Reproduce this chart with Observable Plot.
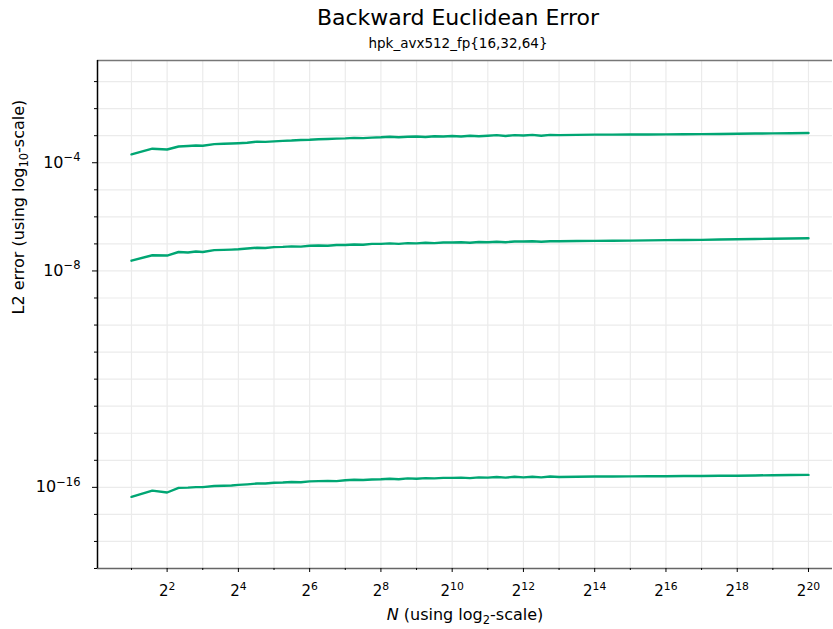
<!DOCTYPE html>
<html>
<head>
<meta charset="utf-8">
<script src="https://cdn.jsdelivr.net/npm/d3@7"></script>
<script src="https://cdn.jsdelivr.net/npm/@observablehq/plot@0.6"></script>
<style>
  html, body { margin: 0; padding: 0; background: #fff; }
  body { width: 833px; height: 629px; position: relative; overflow: hidden; font-family: "DejaVu Sans", sans-serif; }
  #title { position: absolute; z-index: 2; left: 0; width: 916px; top: 4px; text-align: center; font-size: 22px; line-height: 28px; color: #000; }
  #subtitle { position: absolute; z-index: 2; left: 0; width: 916px; top: 35px; text-align: center; font-size: 13.5px; line-height: 16px; color: #000; }
  #chart { position: absolute; z-index: 1; left: 0; top: 50px; }
</style>
</head>
<body>
<div id="title">Backward Euclidean Error</div>
<div id="subtitle">hpk_avx512_fp{16,32,64}</div>
<div id="chart"></div>
<script>
// ---- data ----
const N = [2, 3, 4, 5, 6, 7, 8, 10, 12, 14,
  16, 19, 23, 27, 32, 38, 45, 54, 64, 76, 91, 108, 128, 152, 181, 215, 256, 304, 362, 431,
  512, 609, 724, 861, 1024, 1218, 1448, 1722, 2048, 2435, 2896, 3444, 4096, 4871, 5793, 6889, 8192,
  11585, 16384, 23170, 32768, 46341, 65536, 92682, 131072, 185364, 262144, 370728, 524288, 741455, 1048576];

// log10 of the L2 error, one array per precision
const log10ErrFp16 = [-3.69, -3.48, -3.51, -3.40, -3.38, -3.36, -3.37, -3.31, -3.30, -3.29,
  -3.28, -3.26, -3.22, -3.23, -3.21, -3.19, -3.18, -3.16, -3.15, -3.13, -3.12, -3.11, -3.10, -3.08, -3.09, -3.07, -3.06, -3.04, -3.06, -3.04,
  -3.03, -3.05, -3.02, -3.03, -3.01, -3.03, -3.00, -3.02, -3.00, -2.98, -3.01, -2.98, -2.99, -2.97, -3.00, -2.97, -2.98,
  -2.97, -2.96, -2.96, -2.955, -2.955, -2.95, -2.945, -2.94, -2.935, -2.93, -2.92, -2.915, -2.91, -2.90];

const log10ErrFp32 = [-7.62, -7.42, -7.43, -7.30, -7.32, -7.28, -7.30, -7.23, -7.22, -7.21,
  -7.20, -7.17, -7.14, -7.15, -7.12, -7.11, -7.09, -7.10, -7.07, -7.06, -7.07, -7.04, -7.04, -7.02, -7.03, -7.00, -7.00, -6.98, -7.00, -6.97,
  -6.98, -6.96, -6.97, -6.95, -6.95, -6.94, -6.96, -6.93, -6.94, -6.92, -6.94, -6.91, -6.91, -6.90, -6.92, -6.90, -6.90,
  -6.895, -6.89, -6.885, -6.88, -6.87, -6.86, -6.855, -6.85, -6.84, -6.83, -6.82, -6.81, -6.80, -6.79];

const log10ErrFp64 = [-16.35, -16.12, -16.19, -16.02, -16.01, -15.99, -15.99, -15.95, -15.94, -15.93,
  -15.91, -15.89, -15.86, -15.86, -15.83, -15.82, -15.80, -15.81, -15.78, -15.77, -15.76, -15.77, -15.74, -15.72, -15.73, -15.71, -15.70, -15.68, -15.70, -15.67,
  -15.68, -15.66, -15.67, -15.65, -15.65, -15.64, -15.66, -15.63, -15.64, -15.62, -15.64, -15.61, -15.63, -15.61, -15.63, -15.60, -15.62,
  -15.61, -15.60, -15.60, -15.595, -15.59, -15.59, -15.58, -15.58, -15.57, -15.57, -15.56, -15.55, -15.545, -15.54];

const seriesNames = ["fp16", "fp32", "fp64"];

// tick labels / ticks
const xLabeledExponents = [2, 4, 6, 8, 10, 12, 14, 16, 18, 20];
const xMinorExponents = [1, 3, 5, 7, 9, 11, 13, 15, 17, 19];
const yLabeledExponents = [-4, -8, -16];
const yMinorExponents = [-19, -18, -17, -15, -14, -13, -12, -11, -10, -9, -7, -6, -5, -3, -2, -1];

const xLabel = "*N* (using log_{2}-scale)";
const yLabel = "L2 error (using log_{10}-scale)";

// ---- build table ----
const rows = [];
[log10ErrFp16, log10ErrFp32, log10ErrFp64].forEach((arr, k) => {
  arr.forEach((e, i) => rows.push({series: seriesNames[k], N: N[i], err: Math.pow(10, e)}));
});

const xMajor = xLabeledExponents.map(e => 2 ** e);
const xMinor = xMinorExponents.map(e => 2 ** e);
const xGrid = xMajor.concat(xMinor);
const yMajor = yLabeledExponents.map(e => Math.pow(10, e));
const yMinor = yMinorExponents.map(e => Math.pow(10, e));
const yGrid = yMajor.concat(yMinor);

const xDomain = [2 ** 0.046, 2 ** 20.674];
const yDomain = [Math.pow(10, -19.0), Math.pow(10, -0.22)];

const lineColor = "#00a673";
const gridColor = "#ebebeb";

const chart = Plot.plot({
  width: 833,
  height: 579,
  marginTop: 10,
  marginBottom: 61,
  marginLeft: 97,
  marginRight: 1,
  style: {fontFamily: "DejaVu Sans, sans-serif", fontSize: "15px", background: "transparent", color: "#000"},
  x: {type: "log", base: 2, domain: xDomain, axis: null},
  y: {type: "log", domain: yDomain, axis: null},
  marks: [
    Plot.gridX(xGrid, {stroke: gridColor, strokeOpacity: 1, strokeWidth: 1.2}),
    Plot.gridY(yGrid, {stroke: gridColor, strokeOpacity: 1, strokeWidth: 1.2}),
    Plot.ruleY([yDomain[1]], {stroke: "#777", strokeWidth: 1.5}),
    Plot.ruleY([yDomain[0]], {stroke: "#666", strokeWidth: 1.5}),
    Plot.ruleX([xDomain[0]], {stroke: "#000", strokeWidth: 1.5}),
    Plot.line(rows, {x: "N", y: "err", z: "series", stroke: lineColor, strokeWidth: 2.4, curve: "linear"}),
    Plot.axisX(xMajor, {tickSize: 4, tickPadding: 13, label: null, fontSize: 15,
      tickFormat: d => `2^{${Math.round(Math.log2(d))}}`}),
    Plot.axisX(xMinor, {tickSize: 2, label: null, tickFormat: () => ""}),
    Plot.axisY(yMajor, {tickSize: 5, tickPadding: 12, label: null, fontSize: 16,
      tickFormat: d => `10^{${Math.round(Math.log10(d))}}`}),
    Plot.axisY(yMinor, {tickSize: 3, label: null, tickFormat: () => ""}),
    Plot.text([xLabel], {frameAnchor: "bottom", dy: 46, text: d => d, fontSize: 16, lineAnchor: "middle"}),
    Plot.text([yLabel], {frameAnchor: "left", dx: -79, rotate: -90, text: d => d, fontSize: 16, lineAnchor: "middle"})
  ]
});

// rich text: ^{..} superscript, _{..} subscript, *..* italic, minus sign
function richify(el, base) {
  const s = el.textContent;
  if (!/[\^_*]/.test(s)) return;
  while (el.firstChild) el.removeChild(el.firstChild);
  const parts = s.split(/(\^\{[^}]*\}|_\{[^}]*\}|\*[^*]*\*)/).filter(p => p !== "");
  let cur = 0;
  const ns = "http://www.w3.org/2000/svg";
  for (const p of parts) {
    const t = document.createElementNS(ns, "tspan");
    let target = 0, txt = p;
    if (p.startsWith("^{")) { txt = p.slice(2, -1).replace("-", "\u2212"); target = -0.42 * base; t.setAttribute("font-size", (0.72 * base) + "px"); }
    else if (p.startsWith("_{")) { txt = p.slice(2, -1); target = 0.28 * base; t.setAttribute("font-size", (0.72 * base) + "px"); }
    else if (p.startsWith("*")) { txt = p.slice(1, -1); t.setAttribute("font-style", "italic"); }
    const dy = target - cur;
    if (dy !== 0) t.setAttribute("dy", dy);
    cur = target;
    t.textContent = txt;
    el.appendChild(t);
  }
}
chart.querySelectorAll("text").forEach(el => {
  const fsHost = el.closest("[font-size]");
  const base = fsHost ? parseFloat(fsHost.getAttribute("font-size")) : 15;
  richify(el, base || 15);
});
document.getElementById("chart").appendChild(chart);
</script>
</body>
</html>
